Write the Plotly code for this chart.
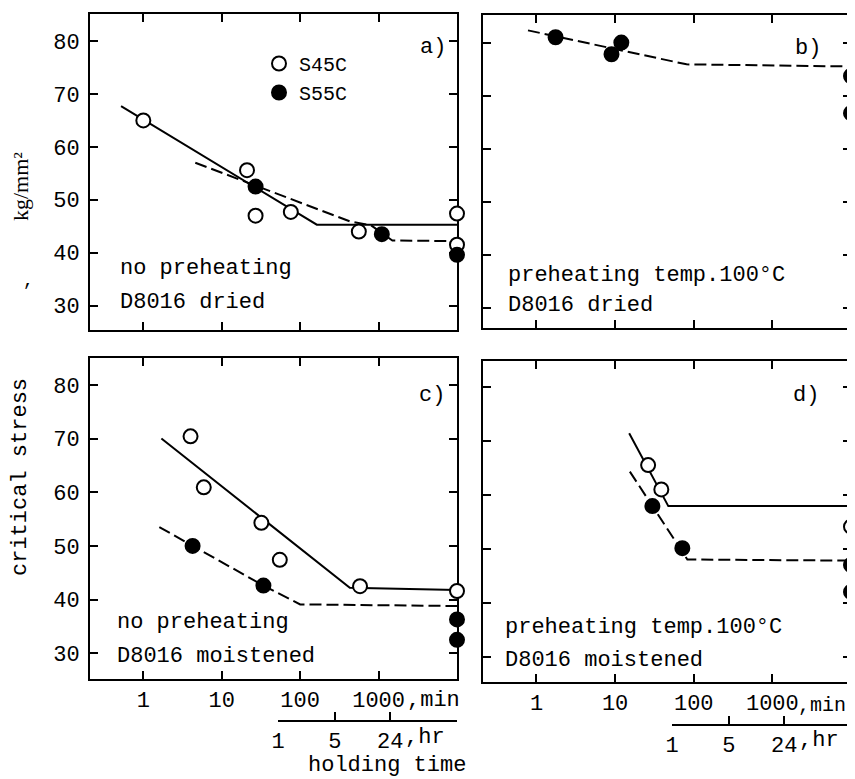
import math
import plotly.graph_objects as go

W, H = 855, 779          # target picture size
OFF = 8                  # page body margin of the browser
FW, FH = W - OFF, H - OFF
FONT = "Liberation Mono"

# ---------------- data (minutes / kg/mm2) ----------------
# panel a) no preheating, D8016 dried
a_s45_x = [1.0, 21, 27, 76, 560, 10000, 10000]
a_s45_y = [65.0, 55.6, 47.0, 47.7, 44.0, 47.4, 41.5]
a_s55_x = [27, 1100, 10000]
a_s55_y = [52.5, 43.5, 39.6]
a_solid_x = [0.52, 163, 10000]
a_solid_y = [67.7, 45.3, 45.3]
a_dash_x = [4.6, 433, 800, 1500, 10000]
a_dash_y = [57.0, 45.9, 45.2, 42.3, 42.2]

# panel b) preheating 100C, D8016 dried
b_s55_x = [1.75, 9, 12, 10000, 10000]
b_s55_y = [81.1, 77.9, 80.1, 73.8, 66.8]
b_dash_x = [0.78, 81, 10000]
b_dash_y = [82.4, 76.0, 75.6]

# panel c) no preheating, D8016 moistened
c_s45_x = [4.0, 5.9, 32, 55, 580, 10000]
c_s45_y = [70.4, 60.9, 54.3, 47.4, 42.5, 41.6]
c_s55_x = [4.25, 34, 10000, 10000]
c_s55_y = [50.0, 42.6, 36.3, 32.5]
c_solid_x = [1.7, 430, 10000]
c_solid_y = [70.0, 42.2, 41.8]
c_dash_x = [1.6, 34, 100, 10000]
c_dash_y = [53.5, 42.6, 39.1, 38.8]

# panel d) preheating 100C, D8016 moistened
d_s45_x = [26.3, 38.7, 10000]
d_s45_y = [65.6, 61.1, 54.2]
d_s55_x = [29.8, 71.6, 10000, 10000]
d_s55_y = [58.0, 50.2, 47.1, 42.1]
d_solid_x = [15.1, 47.5, 10000]
d_solid_y = [71.5, 58.0, 58.0]
d_dash_x = [15.4, 83, 10000]
d_dash_y = [64.4, 48.1, 47.9]

x_ticks = [1, 10, 100, 1000]
x_ticktext = ["1", "10", "100", "1000"]
y_ticks = [30, 40, 50, 60, 70, 80]
hr_ticks = [1, 5, 24]
hr_ticktext = ["1", "5", "24"]


def px(x):
    return (x - OFF) / FW


def py(y):
    return 1 - (y - OFF) / FH


fig = go.Figure()

panels = [
    ("x", "y", a_solid_x, a_solid_y, a_dash_x, a_dash_y, a_s45_x, a_s45_y, a_s55_x, a_s55_y, True),
    ("x2", "y2", None, None, b_dash_x, b_dash_y, None, None, b_s55_x, b_s55_y, False),
    ("x3", "y3", c_solid_x, c_solid_y, c_dash_x, c_dash_y, c_s45_x, c_s45_y, c_s55_x, c_s55_y, False),
    ("x4", "y4", d_solid_x, d_solid_y, d_dash_x, d_dash_y, d_s45_x, d_s45_y, d_s55_x, d_s55_y, False),
]

for xa, ya, sx, sy, dx, dy, ox, oy, fx, fy, leg in panels:
    if sx is not None:
        fig.add_trace(go.Scatter(x=sx, y=sy, mode="lines", xaxis=xa, yaxis=ya,
                                 line=dict(color="black", width=2), showlegend=False,
                                 hoverinfo="skip"))
    fig.add_trace(go.Scatter(x=dx, y=dy, mode="lines", xaxis=xa, yaxis=ya,
                             line=dict(color="black", width=2, dash="12px,5px"),
                             showlegend=False, hoverinfo="skip"))
    if ox is not None:
        fig.add_trace(go.Scatter(x=ox, y=oy, mode="markers", xaxis=xa, yaxis=ya,
                                 name="S45C", showlegend=leg, cliponaxis=False,
                                 marker=dict(symbol="circle", size=14, color="white",
                                             line=dict(color="black", width=2))))
    fig.add_trace(go.Scatter(x=fx, y=fy, mode="markers", xaxis=xa, yaxis=ya,
                             name="S55C", showlegend=leg, cliponaxis=False,
                             marker=dict(symbol="circle", size=14, color="black",
                                         line=dict(color="black", width=2))))

# empty traces so that the hour axes are drawn
fig.add_trace(go.Scatter(x=[], y=[], xaxis="x5", yaxis="y3", showlegend=False))
fig.add_trace(go.Scatter(x=[], y=[], xaxis="x6", yaxis="y4", showlegend=False))

common = dict(showline=True, linewidth=2, linecolor="black", mirror="ticks",
              ticks="inside", ticklen=8, tickwidth=2, tickcolor="black",
              showgrid=False, zeroline=False, layer="below traces", automargin=False,
              tickfont=dict(family=FONT, size=22, color="black"))

xr = [-0.68, 4.0]
xdom_l = [px(90), px(457)]
xdom_r = [px(483), px(851)]


def xaxis(dom, labels, anchor):
    return dict(common, type="log", range=xr, domain=dom, tickvals=x_ticks,
                ticktext=x_ticktext, showticklabels=labels, anchor=anchor)


def yaxis(dom, rng, labels, anchor):
    return dict(common, range=rng, domain=dom, tickvals=y_ticks,
                showticklabels=labels, anchor=anchor, ticklabelstandoff=4)


hr_axis = dict(showline=True, linewidth=2, linecolor="black", ticks="inside",
               ticklen=8, tickwidth=2, tickcolor="black", showgrid=False,
               zeroline=False, type="log", range=[0, 2.2], tickvals=hr_ticks,
               ticktext=hr_ticktext, anchor="free", side="bottom", automargin=False,
               tickfont=dict(family=FONT, size=22, color="black"))

fig.update_layout(
    template="none",
    width=FW, height=FH,
    margin=dict(l=0, r=0, t=0, b=0, pad=0, autoexpand=False),
    paper_bgcolor="white", plot_bgcolor="rgba(0,0,0,0)",
    xaxis=xaxis(xdom_l, False, "y"),
    yaxis=yaxis([py(330), py(14)], [25.4, 85.1], True, "x"),
    xaxis2=xaxis(xdom_r, False, "y2"),
    yaxis2=yaxis([py(328), py(15)], [26.3, 85.3], False, "x2"),
    xaxis3=xaxis(xdom_l, True, "y3"),
    yaxis3=yaxis([py(679), py(358)], [25.2, 85.0], True, "x3"),
    xaxis4=xaxis(xdom_r, True, "y4"),
    yaxis4=yaxis([py(682), py(361)], [25.4, 84.9], False, "x4"),
    xaxis5=dict(hr_axis, domain=[px(278), px(457)], position=py(721)),
    xaxis6=dict(hr_axis, domain=[px(672), px(851)], position=py(725)),
    showlegend=True,
    legend=dict(x=px(259), y=py(44), xanchor="left", yanchor="top",
                bgcolor="rgba(0,0,0,0)", borderwidth=0,
                font=dict(family=FONT, size=20, color="black"),
                traceorder="normal"),
)

ann = []


def text(x, y, s, size=22, xanchor="left", family=FONT, angle=0):
    ann.append(dict(x=px(x), y=py(y), xref="paper", yref="paper", text=s,
                    showarrow=False, xanchor=xanchor, yanchor="middle", textangle=angle,
                    font=dict(family=family, size=size, color="black")))


text(433, 47, "a)", xanchor="center")
text(808, 48, "b)", xanchor="center")
text(432, 395, "c)", xanchor="center")
text(806, 395, "d)", xanchor="center")

text(118, 268, "no preheating")
text(118, 302, "D8016 dried")
text(506, 275, "preheating temp.100°C")
text(506, 306, "D8016 dried")
text(115, 622, "no preheating")
text(115, 656, "D8016 moistened")
text(503, 627, "preheating temp.100°C")
text(503, 660, "D8016 moistened")

text(405, 700, ",min")
text(796, 705, ",min", size=20)
text(403, 737, ",hr")
text(797, 740, ",hr")
text(306, 765, "holding time")

text(20, 187, "kg/mm²", size=22, xanchor="center", family="Liberation Serif", angle=-90)
text(21, 477, "critical stress", xanchor="center", angle=-90)
text(28, 281, ",", size=18, xanchor="center")

fig.update_layout(annotations=ann)

fig.write_html("out.html")
